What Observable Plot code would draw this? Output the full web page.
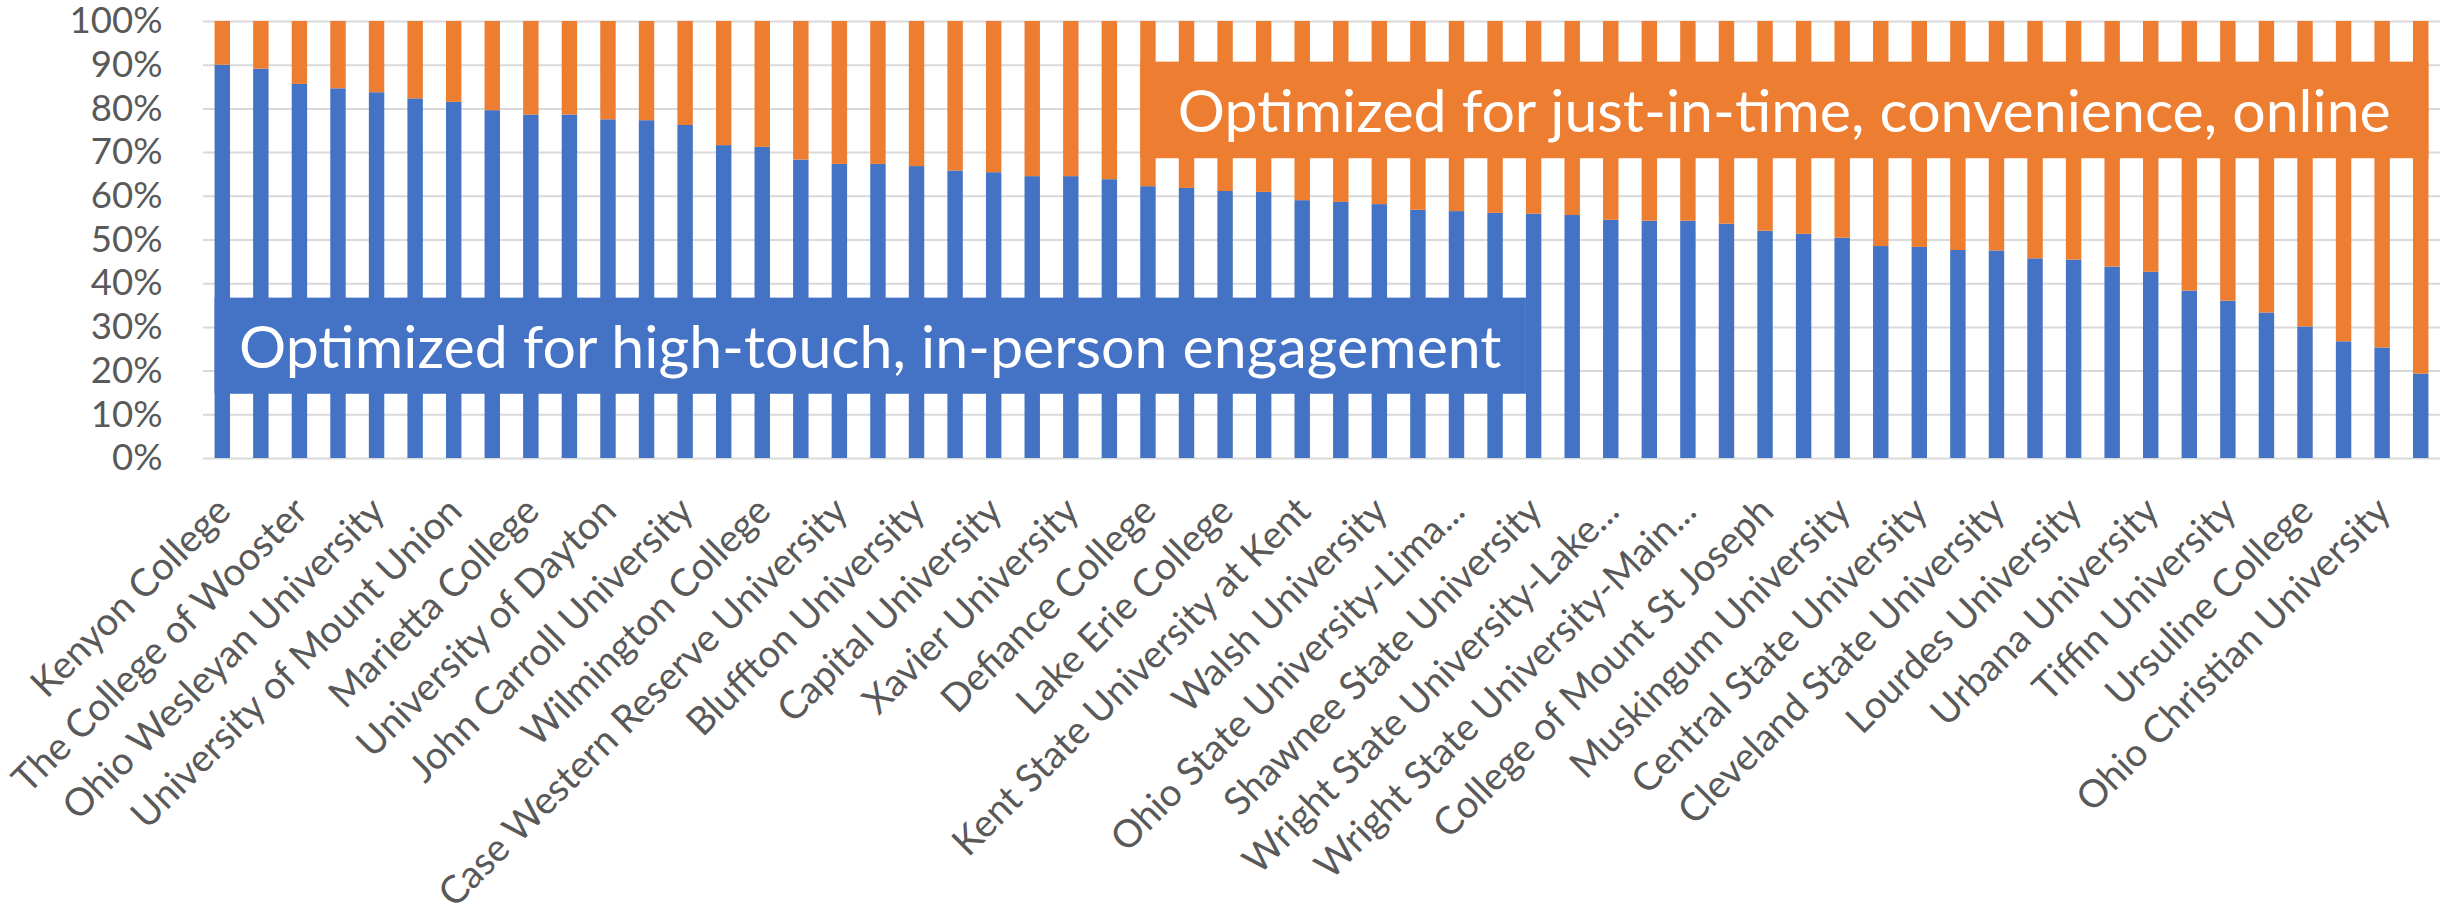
<!DOCTYPE html>
<html>
<head>
<meta charset="utf-8">
<script src="https://cdn.jsdelivr.net/npm/d3@7"></script>
<script src="https://cdn.jsdelivr.net/npm/@observablehq/plot@0.6"></script>
<style>
  html, body { margin: 0; padding: 0; background: #ffffff; }
  #chart svg { display: block; }
</style>
</head>
<body>
<div id="chart"></div>
<script>
// Category tick labels (Excel shows every other category; unlabeled ones are null)
const tickLabels = [
  "Kenyon College", null,
  "The College of Wooster", null,
  "Ohio Wesleyan University", null,
  "University of Mount Union", null,
  "Marietta College", null,
  "University of Dayton", null,
  "John Carroll University", null,
  "Wilmington College", null,
  "Case Western Reserve University", null,
  "Bluffton University", null,
  "Capital University", null,
  "Xavier University", null,
  "Defiance College", null,
  "Lake Erie College", null,
  "Kent State University at Kent", null,
  "Walsh University", null,
  "Ohio State University-Lima...", null,
  "Shawnee State University", null,
  "Wright State University-Lake...", null,
  "Wright State University-Main...", null,
  "College of Mount St Joseph", null,
  "Muskingum University", null,
  "Central State University", null,
  "Cleveland State University", null,
  "Lourdes University", null,
  "Urbana University", null,
  "Tiffin University", null,
  "Ursuline College", null,
  "Ohio Christian University", null
];

// Share (%) optimized for high-touch, in-person engagement (blue); remainder is orange
const inPersonShare = [
  90.0, 89.1, 85.6, 84.6, 83.7, 82.3, 81.5, 79.6, 78.6, 78.6,
  77.5, 77.3, 76.2, 71.6, 71.2, 68.3, 67.3, 67.3, 66.8, 65.8,
  65.4, 64.5, 64.5, 63.8, 62.2, 61.8, 61.1, 60.9, 59.0, 58.6,
  58.1, 56.8, 56.5, 56.1, 55.9, 55.6, 54.5, 54.3, 54.3, 53.6,
  52.0, 51.3, 50.4, 48.5, 48.3, 47.6, 47.5, 45.7, 45.4, 43.8,
  42.6, 38.3, 36.0, 33.3, 30.1, 26.7, 25.3, 19.3
];

const seriesNames = ["In-person", "Online"];
const seriesColors = ["#4472C4", "#ED7D31"];

const yTicks = [0, 10, 20, 30, 40, 50, 60, 70, 80, 90, 100];

// Annotation boxes: category index span and y span (percent)
const boxText = [
  "Optimized for high-touch, in-person engagement",
  "Optimized for just-in-time, convenience, online"
];
const boxSeries = ["In-person", "Online"];
const boxFromIndex = [0, 24];
const boxToIndex = [34, 57];
const boxToBandEnd = [false, true];
const boxYLow = [14.7, 68.6];
const boxYHigh = [36.7, 90.7];

const data = inPersonShare.flatMap((v, i) => [
  {i, series: seriesNames[0], value: v},
  {i, series: seriesNames[1], value: 100 - v}
]);
const labelData = tickLabels
  .map((name, i) => ({i, name}))
  .filter(d => d.name);

// Fit font sizes of the substitute font to the widths seen in the original (Calibri) chart
const FONT = "Lato, 'Open Sans', sans-serif";
const ctx = document.createElement("canvas").getContext("2d");
ctx.font = `100px ${FONT}`;
const w100 = s => ctx.measureText(s).width;
const yTickFont = 100 * 93 / w100("100%");
const xLabelFont = 100 * 560 / w100("Case Western Reserve University");
const boxFont = 100 * ((1262 / w100(boxText[0])) + (1216 / w100(boxText[1]))) / 2;

function annotationMark(index, scales) {
  const x = scales.x, y = scales.y;
  const bw = typeof x.bandwidth === "function" ? x.bandwidth() : x.bandwidth;
  const g = d3.create("svg:g");
  boxText.forEach((t, k) => {
    const x1 = x(boxFromIndex[k]);
    const x2 = x(boxToIndex[k]) + (boxToBandEnd[k] ? bw : 0);
    const y1 = y(boxYHigh[k]);
    const y2 = y(boxYLow[k]);
    const color = seriesColors[seriesNames.indexOf(boxSeries[k])];
    g.append("rect")
      .attr("x", x1).attr("y", y1)
      .attr("width", x2 - x1).attr("height", y2 - y1)
      .attr("fill", color);
    g.append("text")
      .attr("x", (x1 + x2) / 2)
      .attr("y", (y1 + y2) / 2)
      .attr("text-anchor", "middle")
      .attr("dominant-baseline", "central")
      .attr("fill", "#ffffff")
      .attr("font-family", FONT)
      .attr("font-size", boxFont)
      .text(t);
  });
  return g.node();
}

const chart = Plot.plot({
  width: 2440,
  height: 919,
  marginLeft: 203,
  marginRight: 0,
  marginTop: 21,
  marginBottom: 461,
  style: {fontFamily: FONT, background: "#ffffff"},
  x: {
    type: "band",
    domain: d3.range(inPersonShare.length),
    paddingInner: 0.6,
    paddingOuter: 0.3,
    axis: null
  },
  y: {domain: [0, 100], axis: null},
  color: {domain: seriesNames, range: seriesColors},
  marks: [
    Plot.gridY(yTicks, {stroke: "#d9d9d9", strokeOpacity: 1, strokeWidth: 2}),
    Plot.barY(data, {x: "i", y: "value", fill: "series"}),
    annotationMark,
    Plot.axisY({
      ticks: yTicks,
      tickFormat: d => d + "%",
      tickSize: 0,
      tickPadding: 41,
      fontSize: yTickFont,
      fill: "#595959",
      label: null
    }),
    Plot.text(labelData, {
      x: "i",
      text: "name",
      frameAnchor: "bottom",
      rotate: -45,
      textAnchor: "end",
      lineAnchor: "bottom",
      dx: 10,
      dy: 55,
      fontSize: xLabelFont,
      fill: "#595959"
    })
  ]
});

document.getElementById("chart").appendChild(chart);
</script>
</body>
</html>
